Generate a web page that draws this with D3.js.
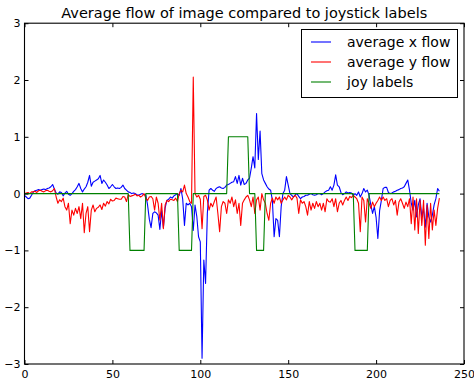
<!DOCTYPE html>
<html>
<head>
<meta charset="utf-8">
<script src="https://cdn.jsdelivr.net/npm/d3@7"></script>
<style>
  html, body { margin: 0; padding: 0; background: #fff; }
  svg { display: block; }
  text { font-family: "DejaVu Sans", sans-serif; fill: #000; }
</style>
</head>
<body>
<svg id="chart" width="474" height="381"></svg>
<script>
// Mean optical flow per frame (x and y components)
const flowX = [
  -0.03,-0.06,-0.09,-0.08,-0.03,0.03,0.05,0.06,0.07,0.06,
  0.07,0.08,0.07,0.09,0.10,0.12,0.16,0.08,0.01,-0.01,
  0.03,0.02,-0.04,0.01,0.04,-0.01,-0.03,0.00,0.04,0.07,
  0.12,0.18,0.09,0.03,0.08,0.12,0.20,0.32,0.13,0.20,
  0.22,0.24,0.26,0.32,0.18,0.24,0.20,0.15,0.09,0.12,
  0.16,0.12,0.09,0.10,0.09,0.11,0.15,0.09,0.06,0.03,
  0.02,0.00,0.01,0.00,-0.02,-0.03,-0.01,0.00,-0.02,-0.02,
  -0.20,-0.45,-0.60,-0.35,-0.32,-0.34,-0.38,-0.63,-0.30,-0.60,
  -0.25,-0.12,-0.10,-0.06,-0.08,-0.04,-0.02,
  0.00,-0.03,0.09,-0.10,-0.56,-0.17,-0.20,-0.17,-0.23,-0.65,
  -0.20,-0.40,-0.76,-0.85,-2.90,-1.17,-1.58,-0.35,0.06,0.09,
  0.06,0.04,0.09,0.11,0.12,0.10,0.09,0.11,0.15,0.16,
  0.18,0.20,0.21,0.30,0.18,0.32,0.15,0.27,0.16,0.18,
  0.24,0.27,0.45,0.65,0.45,1.41,0.60,1.10,0.35,0.24,
  0.18,0.12,0.08,0.06,-0.12,-0.76,-0.44,-0.47,-0.76,-0.23,
  0.00,0.06,0.30,0.15,0.00,-0.03,-0.06,-0.02,0.00,-0.05,
  -0.09,-0.06,-0.05,-0.03,-0.03,-0.01,0.00,-0.02,-0.03,-0.02,
  0.00,0.00,
  -0.02,0.00,0.03,0.05,0.06,0.12,0.06,0.15,0.33,0.15,
  0.12,0.02,-0.02,0.00,0.03,0.01,0.02,0.01,-0.03,0.00,
  -0.03,0.03,-0.06,0.00,0.09,0.03,0.06,-0.03,-0.20,-0.35,
  -0.23,-0.42,-0.79,-0.30,-0.12,0.09,0.11,0.11,0.02,0.00,
  0.01,0.03,0.04,0.06,0.07,0.09,0.10,0.12,0.18,0.24,
  0.06,-0.17,-0.29,-0.12,-0.41,-0.20,-0.09,-0.41,-0.26,-0.59,
  -0.17,-0.41,-0.50,-0.38,-0.20,-0.09,0.09,0.04
];

const flowY = [
  0.00,0.01,0.02,0.00,0.03,0.03,0.04,0.02,0.05,0.06,
  0.04,0.03,0.05,0.06,0.04,0.03,0.05,0.09,-0.06,-0.17,
  -0.11,-0.14,-0.08,-0.23,-0.29,-0.17,-0.53,-0.29,-0.38,-0.26,
  -0.35,-0.23,-0.44,-0.17,-0.69,-0.35,-0.23,-0.67,-0.29,-0.20,
  -0.32,-0.26,-0.24,-0.20,-0.28,-0.17,-0.22,-0.14,-0.18,-0.10,
  -0.13,-0.12,-0.08,-0.09,-0.10,-0.10,-0.05,-0.06,-0.14,-0.02,
  -0.05,-0.04,-0.03,-0.01,-0.04,-0.03,-0.06,-0.04,0.00,-0.08,
  -0.12,-0.06,-0.05,-0.09,-0.29,-0.06,-0.17,-0.47,-0.17,-0.62,
  -0.20,-0.12,-0.14,-0.10,-0.11,-0.12,-0.08,
  -0.14,0.00,0.06,0.03,0.15,0.00,-0.06,-0.14,-0.17,2.05,
  0.00,-0.06,-0.03,-0.10,-0.62,-0.05,-0.03,-0.11,-0.29,-0.17,
  -0.23,-0.14,-0.06,-0.35,-0.67,-0.23,-0.14,-0.17,-0.35,-0.11,
  -0.17,-0.06,-0.23,-0.11,-0.35,-0.17,-0.56,-0.17,-0.11,-0.06,
  -0.03,-0.11,-0.23,-0.06,-0.35,-0.11,-0.06,-0.29,0.00,-0.11,
  -0.17,-0.35,-0.47,-0.17,-0.08,-0.17,-0.06,-0.11,-0.06,-0.17,
  -0.11,-0.06,-0.11,-0.03,-0.06,-0.11,-0.06,-0.03,-0.08,-0.35,
  -0.11,-0.17,-0.14,-0.23,-0.38,-0.14,-0.29,-0.17,-0.26,-0.14,
  -0.23,-0.17,
  -0.29,-0.17,-0.32,-0.09,-0.14,-0.15,-0.09,-0.23,-0.09,-0.32,
  -0.17,-0.12,-0.20,-0.12,-0.06,-0.12,-0.05,-0.07,-0.03,-0.06,
  -0.09,-0.17,-0.67,-0.06,-0.12,-0.50,-0.09,-0.17,-0.26,-0.15,
  -0.23,-0.17,-0.12,-0.06,-0.12,-0.06,-0.12,-0.09,-0.23,-0.12,
  -0.09,-0.20,-0.12,-0.38,-0.15,-0.09,-0.17,-0.26,-0.15,-0.23,
  -0.09,-0.53,-0.06,-0.64,-0.09,-0.70,-0.12,-0.56,-0.12,-0.91,
  -0.20,-0.79,-0.17,-0.64,-0.29,-0.56,-0.26,-0.08
];

// Joystick label per frame (-1 left, 0 none, 1 right)
const joyLabels = [
  0,0,0,0,0,0,0,0,0,0,0,0,0,0,0,0,0,0,0,0,
  0,0,0,0,0,0,0,0,0,0,0,0,0,0,0,0,0,0,0,0,
  0,0,0,0,0,0,0,0,0,0,0,0,0,0,0,0,0,0,0,0,
  -1,-1,-1,-1,-1,-1,-1,-1,-1,0,0,0,0,0,0,0,0,0,0,0,
  0,0,0,0,0,0,0,0,-1,-1,-1,-1,-1,-1,-1,-1,0,0,0,0,
  0,0,0,0,0,0,0,0,0,0,0,0,0,0,0,0,1,1,1,1,
  1,1,1,1,1,1,1,1,0,0,0,0,-1,-1,-1,-1,-1,0,0,0,
  0,0,0,0,0,0,0,0,0,0,0,0,0,0,0,0,0,0,0,0,
  0,0,0,0,0,0,0,0,0,0,0,0,0,0,0,0,0,0,0,0,
  0,0,0,0,0,0,0,0,-1,-1,-1,-1,-1,-1,-1,-1,0,0,0,0,
  0,0,0,0,0,0,0,0,0,0,0,0,0,0,0,0,0,0,0,0,
  0,0,0,0,0,0,0,0,0,0,0,0,0,0,0,0,0
];

const xTicks = [0, 50, 100, 150, 200, 250];
const yTicks = [-3, -2, -1, 0, 1, 2, 3];
const seriesNames = ["average x flow", "average y flow", "joy labels"];
const seriesColors = ["#0000ff", "#ff0000", "#008000"];
const chartTitle = "Average flow of image compared to joystick labels";

const svg = d3.select("#chart");
const plotLeft = 24.5, plotRight = 464, plotTop = 23.2, plotBottom = 364;

const x = d3.scaleLinear().domain([0, 250]).range([plotLeft, plotRight]);
const y = d3.scaleLinear().domain([-3, 3]).range([plotBottom, plotTop]);

svg.append("rect").attr("width", 474).attr("height", 381).attr("fill", "#fff");

svg.append("defs").append("clipPath").attr("id", "plot-clip")
  .append("rect").attr("x", plotLeft).attr("y", plotTop)
  .attr("width", plotRight - plotLeft).attr("height", plotBottom - plotTop);

const line = d3.line().x((d, i) => x(i)).y(d => y(d));
const plot = svg.append("g").attr("clip-path", "url(#plot-clip)");
[flowX, flowY, joyLabels].forEach((series, k) => {
  plot.append("path")
    .datum(series)
    .attr("d", line)
    .attr("fill", "none")
    .attr("stroke", seriesColors[k])
    .attr("stroke-width", 1.1)
    .attr("stroke-linejoin", "round");
});

// Axes: ticks point inward on all four sides
const fmt = d3.format("d");
const styleAxis = g => {
  g.select(".domain").remove();
  g.selectAll(".tick line").attr("stroke", "#000").attr("stroke-width", 1);
  g.selectAll("text").attr("font-size", 11).attr("font-family", "DejaVu Sans");
};
svg.append("g").attr("transform", `translate(0,${plotBottom})`)
  .call(d3.axisBottom(x).tickValues(xTicks).tickFormat(fmt).tickSizeInner(-4).tickSizeOuter(0).tickPadding(6))
  .call(styleAxis);
svg.append("g").attr("transform", `translate(0,${plotTop})`)
  .call(d3.axisTop(x).tickValues(xTicks).tickFormat("").tickSizeInner(-4).tickSizeOuter(0))
  .call(styleAxis);
svg.append("g").attr("transform", `translate(${plotLeft},0)`)
  .call(d3.axisLeft(y).tickValues(yTicks).tickFormat(fmt).tickSizeInner(-4).tickSizeOuter(0).tickPadding(4))
  .call(styleAxis);
svg.append("g").attr("transform", `translate(${plotRight},0)`)
  .call(d3.axisRight(y).tickValues(yTicks).tickFormat("").tickSizeInner(-4).tickSizeOuter(0))
  .call(styleAxis);

// Frame
svg.append("rect")
  .attr("x", plotLeft).attr("y", plotTop)
  .attr("width", plotRight - plotLeft).attr("height", plotBottom - plotTop)
  .attr("fill", "none").attr("stroke", "#000").attr("stroke-width", 1.1);

// Title
svg.append("text")
  .attr("x", (plotLeft + plotRight) / 2).attr("y", 18)
  .attr("text-anchor", "middle")
  .attr("font-size", 14.5)
  .text(chartTitle);

// Legend
const legend = svg.append("g");
legend.append("rect")
  .attr("x", 301.5).attr("y", 29.5).attr("width", 156).attr("height", 68)
  .attr("fill", "#fff").attr("stroke", "#000").attr("stroke-width", 1);
seriesNames.forEach((name, i) => {
  const ly = 42 + i * 20;
  legend.append("line")
    .attr("x1", 311).attr("x2", 331).attr("y1", ly).attr("y2", ly)
    .attr("stroke", seriesColors[i]).attr("stroke-width", 1.1);
  legend.append("text")
    .attr("x", 347).attr("y", ly).attr("dy", "0.36em")
    .attr("font-size", 14)
    .text(name);
});
</script>
</body>
</html>
